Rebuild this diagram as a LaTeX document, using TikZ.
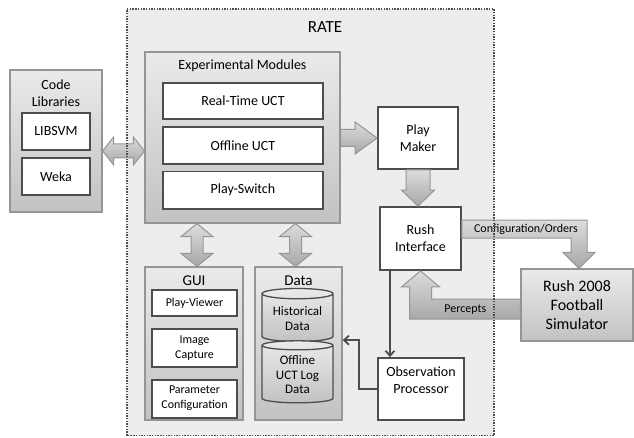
\documentclass[tikz,border=0pt]{standalone}
\usepackage{fontspec}
\setmainfont{Carlito}
\usetikzlibrary{arrows.meta,positioning,shapes,calc}
\definecolor{edge}{HTML}{4D4D4D}
\definecolor{grpedge}{HTML}{959595}
\definecolor{grptop}{HTML}{EAEAEA}
\definecolor{grpbot}{HTML}{C2C2C2}
\definecolor{ratefill}{HTML}{EDEDED}
\definecolor{fattop}{HTML}{DCDCDC}
\definecolor{fatbot}{HTML}{A8A8A8}

\begin{document}
\begin{tikzpicture}[x=1pt,y=1pt,
  box/.style={draw=edge,line width=1.8pt,fill=white,align=center,inner sep=2pt,font=\fontsize{14}{17}\selectfont},
  sub/.style={box,font=\fontsize{12}{15}\selectfont},
  grp/.style={draw=grpedge,line width=1.2pt,top color=grptop,bottom color=grpbot,inner sep=0pt},
  ttl/.style={inner sep=0pt,align=center,font=\fontsize{#1}{17}\selectfont},
  db/.style={cylinder,shape border rotate=90,aspect=0.2,draw=edge,line width=1.3pt,top color=grptop,bottom color=grpbot,
    minimum width=71,align=center,inner sep=1pt,font=\fontsize{13}{14.5}\selectfont},
  fat/.style={draw=grpedge,line width=1pt,top color=fattop,bottom color=fatbot},
  lbl/.style={inner sep=0pt,font=\fontsize{12}{14}\selectfont},
  conn/.style={draw=edge,line width=1.8pt,-{Straight Barb[length=5pt,width=9pt]}},
  % thick double arrow: shaft half width, head half width, head length
  fatdbl/.style n args={3}{to path={let \p1=($(\tikztotarget)-(\tikztostart)$), \n1={veclen(\x1,\y1)}, \n2={atan2(\y1,\x1)} in
    [shift={(\tikztostart)},rotate=\n2] (0,0) -- (#3,#2) -- (#3,#1) -- (\n1-#3,#1) -- (\n1-#3,#2) -- (\n1,0)
    -- (\n1-#3,-#2) -- (\n1-#3,-#1) -- (#3,-#1) -- (#3,-#2) -- cycle}},
  fatone/.style n args={3}{to path={let \p1=($(\tikztotarget)-(\tikztostart)$), \n1={veclen(\x1,\y1)}, \n2={atan2(\y1,\x1)} in
    [shift={(\tikztostart)},rotate=\n2] (0,#1) -- (\n1-#3,#1) -- (\n1-#3,#2) -- (\n1,0)
    -- (\n1-#3,-#2) -- (\n1-#3,-#1) -- (0,-#1) -- cycle}}]
\useasboundingbox (0,0) rectangle (634,437);

% RATE frame
\fill[ratefill] (127,1.5) rectangle (494,428);
\node[ttl=17] (ratettl) at (325,410) {RATE};

% code libraries
\node[grp,minimum width=92,minimum height=142] (libs) at (56,296) {};
\node[ttl=14] (libsttl) at (56,343.5) {Code\\Libraries};
\node[box,minimum width=68,minimum height=37] (libsvm) at (56,305.5) {LIBSVM};
\node[box,minimum width=68,minimum height=37,below=6 of libsvm] (weka) {Weka};

% experimental modules
\node[grp,minimum width=195,minimum height=171] (exp) at (242.5,299.5) {};
\node[ttl=14] (expttl) at (242.5,371) {Experimental Modules};
\node[box,minimum width=160,minimum height=36] (rt) at (243,336) {Real-Time UCT};
\node[box,minimum width=160,minimum height=37,below=6 of rt] (off) {Offline UCT};
\node[box,minimum width=160,minimum height=37,below=6 of off] (ps) {Play-Switch};

% right column
\node[box,minimum width=80,minimum height=62] (pm) at (418,299) {Play\\Maker};
\node[box,minimum width=81,minimum height=63] (ri) at (420.5,198.5) {Rush\\Interface};
\node[box,minimum width=86,minimum height=62] (op) at (421,48) {Observation\\Processor\\\mbox{}};
\node[grp,minimum width=112,minimum height=72,align=center,font=\fontsize{16}{19}\selectfont] (sim) at (577,132) {Rush 2008\\Football\\Simulator};

% GUI
\node[grp,minimum width=98,minimum height=153] (gui) at (194,93.5) {};
\node[ttl=15] (guittl) at (194,156) {GUI};
\node[sub,minimum width=85,minimum height=26] (pv) at (194.5,134) {Play-Viewer};
\node[sub,minimum width=85,minimum height=38,below=11 of pv] (ic) {Image\\Capture};
\node[sub,minimum width=85,minimum height=38,below=11 of ic] (pc) {Parameter\\Configuration};

% data
\node[grp,minimum width=87,minimum height=153] (data) at (298.5,93.5) {};
\node[ttl=15] (datattl) at (298.5,156) {Data};
\node[db,minimum height=53] (hist) at (297.5,118.5) {Historical\\Data};
\node[db,minimum height=62,below=-2 of hist] (log) {Offline\\UCT Log\\Data};

% thick arrows
\draw[fat] (libs.east |- 0,286) to[fatdbl={7}{14}{11}] (exp.west |- 0,286);
\draw[fat] (exp.east |- pm.west) to[fatone={8.5}{16}{22}] (pm.west);
\draw[fat] (pm.south) to[fatone={12}{16.5}{16}] (pm.south |- ri.north);
\draw[fat] ([xshift=3pt]gui.north |- exp.south) to[fatdbl={6}{16}{13}] ([xshift=3pt]gui.north);
\draw[fat] ([xshift=-3pt]data.north |- exp.south) to[fatdbl={6}{16}{13}] ([xshift=-3pt]data.north);
\draw[fat] let \p1=(ri.east), \p2=([xshift=2pt]sim.north) in
  (\x1,\y1+18.5) -- (\x2+8,\y1+18.5) -- (\x2+8,\y2+16) -- (\x2+16,\y2+16) -- (\x2,\y2)
  -- (\x2-16,\y2+16) -- (\x2-8,\y2+16) -- (\x2-8,\y1+0.5) -- (\x1,\y1+0.5) -- cycle;
\draw[fat] let \p1=(sim.west), \p2=(ri.south) in
  (\x1,\y1+6) -- (\x2+11,\y1+6) -- (\x2+11,\y2-16) -- (\x2+19,\y2-16) -- (\x2,\y2)
  -- (\x2-19,\y2-16) -- (\x2-11,\y2-16) -- (\x2-11,\y1-14) -- (\x1,\y1-14) -- cycle;
\node[lbl] (cfglbl) at ($(ri.east)+(64,9.5)$) {Configuration/Orders};
\node[lbl] (perlbl) at ($(sim.west)+(-55,-5)$) {Percepts};

% thin connectors
\draw[conn] ([xshift=-30.5pt]ri.south) -- ([xshift=-30.5pt]ri.south |- op.north);
\draw[conn] (op.west) -- ++(-18,0) |- ([yshift=2pt]hist.south -| data.east);

% RATE border on top
\draw[edge,line width=1.8pt,dash pattern=on 1.4pt off 1.3pt] (127,1.5) rectangle (494,428);
\end{tikzpicture}
\end{document}
